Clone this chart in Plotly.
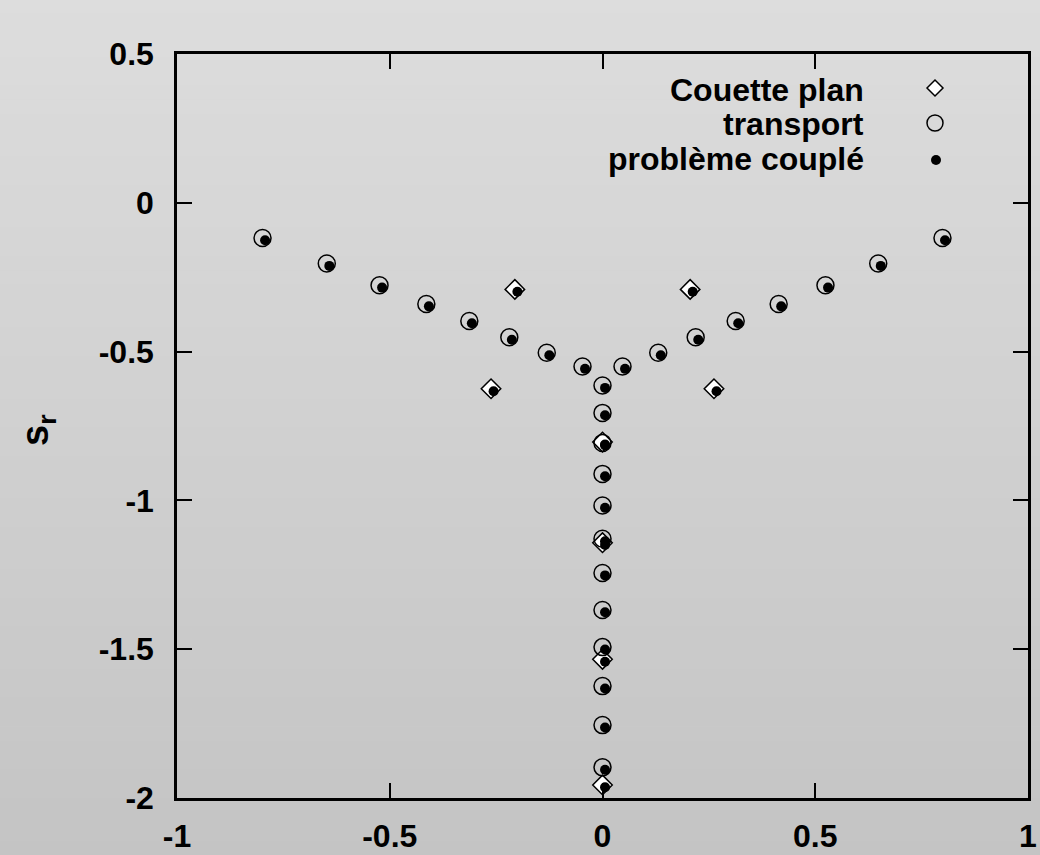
import plotly.graph_objects as go

# ---------------- data ----------------
couette_x = [-0.206, -0.262, 0.206, 0.262, 0.0, 0.0, 0.0, 0.0]
couette_y = [-0.291, -0.625, -0.291, -0.625, -0.804, -1.142, -1.534, -1.956]

transport_x = [-0.799, -0.648, -0.524, -0.414, -0.313, -0.219, -0.131, -0.047,
               0.047, 0.131, 0.219, 0.313, 0.414, 0.524, 0.648, 0.799,
               0.0, 0.0, 0.0, 0.0, 0.0, 0.0, 0.0, 0.0, 0.0, 0.0, 0.0, 0.0]
transport_y = [-0.118, -0.204, -0.277, -0.340, -0.397, -0.452, -0.504, -0.550,
               -0.550, -0.504, -0.452, -0.397, -0.340, -0.277, -0.204, -0.118,
               -0.614, -0.706, -0.807, -0.911, -1.017, -1.129, -1.244, -1.368,
               -1.493, -1.624, -1.755, -1.897]

couple_x = [-0.793, -0.642, -0.518, -0.408, -0.307, -0.213, -0.125, -0.041,
            0.053, 0.137, 0.225, 0.319, 0.420, 0.530, 0.654, 0.805,
            0.006, 0.006, 0.006, 0.006, 0.006, 0.006, 0.006, 0.006, 0.006, 0.006, 0.006, 0.006,
            -0.200, -0.256, 0.212, 0.268, 0.006, 0.006, 0.006, 0.006]
couple_y = [-0.126, -0.212, -0.285, -0.348, -0.405, -0.460, -0.512, -0.558,
            -0.558, -0.512, -0.460, -0.405, -0.348, -0.285, -0.212, -0.126,
            -0.622, -0.714, -0.815, -0.919, -1.025, -1.137, -1.252, -1.376,
            -1.501, -1.632, -1.763, -1.905,
            -0.299, -0.633, -0.299, -0.633, -0.812, -1.150, -1.542, -1.964]

x_tick_vals = [-1, -0.5, 0, 0.5, 1]
x_tick_text = ["-1", "-0.5", "0", "0.5", "1"]
y_tick_vals = [-2, -1.5, -1, -0.5, 0, 0.5]
y_tick_text = ["-2", "-1.5", "-1", "-0.5", "0", "0.5"]

legend_labels = ["Couette plan", "transport", "problème couplé"]
y_title = "s<sub>r</sub>"

# ---------------- layout geometry ----------------
W, H = 1040, 855
ML, MR, MT, MB = 177, 12, 54, 57
PW, PH = W - ML - MR, H - MT - MB

def px2paper_x(px):
    return (px - ML) / PW

def px2paper_y(py):
    return (H - MB - py) / PH

FONT = "Liberation Sans, Arial, sans-serif"

fig = go.Figure()

fig.add_trace(go.Scatter(
    x=couette_x, y=couette_y, mode="markers", name=legend_labels[0], showlegend=False,
    marker=dict(symbol="diamond", size=15, color="white", line=dict(color="black", width=1.5)),
))
fig.add_trace(go.Scatter(
    x=transport_x, y=transport_y, mode="markers", name=legend_labels[1], showlegend=False,
    marker=dict(symbol="circle-open", size=17, color="black", line=dict(color="black", width=1.5)),
))
fig.add_trace(go.Scatter(
    x=couple_x, y=couple_y, mode="markers", name=legend_labels[2], showlegend=False,
    marker=dict(symbol="circle", size=10, color="black", line=dict(width=0)),
))

# background vertical gradient
shapes = []
N = 60
top_c, bot_c = 221, 196
for i in range(N):
    py0 = i * H / N
    py1 = (i + 1) * H / N
    c = round(top_c + (bot_c - top_c) * (i + 0.5) / N)
    shapes.append(dict(
        type="rect", xref="paper", yref="paper", layer="below",
        x0=px2paper_x(-2), x1=px2paper_x(W + 2), y0=px2paper_y(py1 + (2 if i == N - 1 else 0)),
        y1=px2paper_y(py0 - (2 if i == 0 else 0.5)),
        fillcolor=f"rgb({c},{c},{c})", line=dict(width=0),
    ))

# custom legend (text on left, symbol on right)
leg_text_x = px2paper_x(866)
leg_sym_x = 935
leg_rows = [90, 124, 159]
annotations = []
for lbl, ry in zip(legend_labels, leg_rows):
    annotations.append(dict(
        text=lbl, xref="paper", yref="paper", x=leg_text_x, y=px2paper_y(ry),
        xanchor="right", yanchor="middle", showarrow=False,
        font=dict(family=FONT, size=32, color="black", weight="bold"),
    ))

# diamond symbol
d = 8
cx, cy = leg_sym_x, 88
shapes.append(dict(
    type="path", xref="paper", yref="paper", layer="above",
    path=(f"M {px2paper_x(cx - d)} {px2paper_y(cy)} L {px2paper_x(cx)} {px2paper_y(cy - d)} "
          f"L {px2paper_x(cx + d)} {px2paper_y(cy)} L {px2paper_x(cx)} {px2paper_y(cy + d)} Z"),
    fillcolor="white", line=dict(color="black", width=1.5),
))
# open circle symbol
r = 8
cx, cy = leg_sym_x, 123
shapes.append(dict(
    type="circle", xref="paper", yref="paper", layer="above",
    x0=px2paper_x(cx - r), x1=px2paper_x(cx + r), y0=px2paper_y(cy + r), y1=px2paper_y(cy - r),
    line=dict(color="black", width=1.5),
))
# filled dot
r = 5
cx, cy = leg_sym_x + 1, 160
shapes.append(dict(
    type="circle", xref="paper", yref="paper", layer="above",
    x0=px2paper_x(cx - r), x1=px2paper_x(cx + r), y0=px2paper_y(cy + r), y1=px2paper_y(cy - r),
    fillcolor="black", line=dict(color="black", width=0),
))

# y-axis title
annotations.append(dict(
    text=y_title, xref="paper", yref="paper", x=px2paper_x(38), y=px2paper_y(430),
    xanchor="center", yanchor="middle", showarrow=False, textangle=-90,
    font=dict(family=FONT, size=38, color="black", weight="bold"),
))

axis_common = dict(
    showgrid=False, zeroline=False, showline=True, linecolor="black", linewidth=2.5,
    mirror="ticks", ticks="inside", ticklen=15, tickwidth=2, tickcolor="black",
    automargin=False,
    tickfont=dict(family=FONT, size=32, color="black", weight="bold"),
)

fig.update_layout(
    width=W, height=H, autosize=False,
    margin=dict(l=ML, r=MR, t=MT, b=MB, pad=0),
    paper_bgcolor="rgb(208,208,208)", plot_bgcolor="rgba(0,0,0,0)",
    showlegend=False,
    xaxis=dict(range=[-1, 1], tickvals=x_tick_vals, ticktext=x_tick_text,
               ticklabelstandoff=8, **axis_common),
    yaxis=dict(range=[-2, 0.5], tickvals=y_tick_vals, ticktext=y_tick_text,
               ticklabelstandoff=14, **axis_common),
    shapes=shapes, annotations=annotations,
)

fig.write_html(
    "out.html",
    config={"displayModeBar": False},
    post_script="document.body.style.margin='0';document.body.style.overflow='hidden';",
)
